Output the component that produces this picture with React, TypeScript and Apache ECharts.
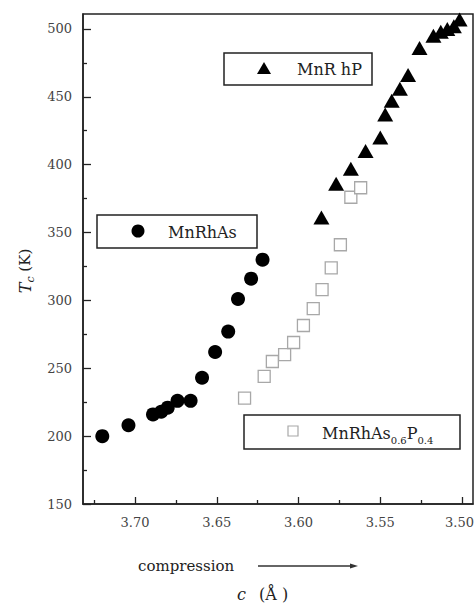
import React, { useEffect, useRef } from "react";
import * as echarts from "echarts";

// MnRhAs (filled circles)
const circleX = [3.720, 3.704, 3.689, 3.684, 3.680, 3.674, 3.666, 3.659, 3.651, 3.643, 3.637, 3.629, 3.622];
const circleY = [200, 208, 216, 218, 221, 226, 226, 243, 262, 277, 301, 316, 330];

// MnRhP (filled triangles)
const triX = [3.586, 3.577, 3.568, 3.559, 3.550, 3.547, 3.543, 3.538, 3.533, 3.526, 3.5175, 3.513, 3.509, 3.505, 3.5015];
const triY = [361, 386, 397, 410, 420, 437, 447, 456, 466, 486, 495, 498, 500, 502, 507];

// MnRhAs0.6P0.4 (open squares)
const sqX = [3.633, 3.621, 3.616, 3.6085, 3.603, 3.597, 3.591, 3.5856, 3.580, 3.5744, 3.568, 3.562];
const sqY = [228, 244, 255, 260, 269, 281.5, 294, 308, 324, 341, 376, 383];

const xMajorTicks = [3.5, 3.55, 3.6, 3.65, 3.7];
const xMinorTicks = [3.525, 3.575, 3.625, 3.675, 3.725];
const yMajorTicks = [150, 200, 250, 300, 350, 400, 450, 500];
const yMinorTicks = [175, 225, 275, 325, 375, 425, 475];

const X_MIN = 3.4933;
const X_MAX = 3.7318;
const Y_MIN = 150;
const Y_MAX = 511;

const FONT = "'DejaVu Serif', serif";
const AXIS_COLOR = "#222";

const pairs = (xs: number[], ys: number[]) => xs.map((x, i) => [x, ys[i]]);

export default function App() {
  const ref = useRef<HTMLDivElement>(null);
  useEffect(() => {
    if (!ref.current) return;
    const chart = echarts.init(ref.current, undefined, { renderer: "svg" });
    const baseX = {
      type: "value" as const,
      inverse: true,
      min: X_MIN,
      max: X_MAX,
      position: "bottom" as const,
      splitLine: { show: false },
    };
    const baseY = {
      type: "value" as const,
      min: Y_MIN,
      max: Y_MAX,
      position: "left" as const,
      splitLine: { show: false },
    };
    chart.setOption({
      animation: false,
      backgroundColor: "#fff",
      grid: {
        left: 83,
        right: 2,
        top: 14,
        bottom: 101,
        containLabel: false,
        outerBoundsMode: "none",
        show: true,
        borderColor: AXIS_COLOR,
        borderWidth: 1.5,
        backgroundColor: "transparent",
      },
      xAxis: [
        {
          ...baseX,
          axisLine: { show: true, lineStyle: { color: AXIS_COLOR, width: 1.5 } },
          axisTick: { show: true, inside: true, length: 7, customValues: xMajorTicks, lineStyle: { color: AXIS_COLOR, width: 1.3 } },
          axisLabel: {
            show: true,
            customValues: xMajorTicks,
            formatter: (v: number) => (v < 3.51 ? `{edge|${v.toFixed(2)}}` : v.toFixed(2)),
            margin: 12,
            fontFamily: FONT,
            fontSize: 13,
            color: "#444",
            rich: {
              edge: { fontFamily: FONT, fontSize: 13, color: "#444", padding: [0, 5, 0, 0] },
            },
          },
        },
        {
          ...baseX,
          axisLine: { show: false },
          axisTick: { show: true, inside: true, length: 4, customValues: xMinorTicks, lineStyle: { color: AXIS_COLOR, width: 1.3 } },
          axisLabel: { show: false },
        },
      ],
      yAxis: [
        {
          ...baseY,
          axisLine: { show: true, lineStyle: { color: AXIS_COLOR, width: 1.5 } },
          axisTick: { show: true, inside: true, length: 8, customValues: yMajorTicks, lineStyle: { color: AXIS_COLOR, width: 1.3 } },
          axisLabel: {
            show: true,
            customValues: yMajorTicks,
            margin: 11,
            fontFamily: FONT,
            fontSize: 13,
            color: "#444",
          },
        },
        {
          ...baseY,
          axisLine: { show: false },
          axisTick: { show: true, inside: true, length: 4, customValues: yMinorTicks, lineStyle: { color: AXIS_COLOR, width: 1.3 } },
          axisLabel: { show: false },
        },
      ],
      series: [
        {
          name: "MnRhAs",
          type: "scatter",
          xAxisIndex: 0,
          yAxisIndex: 0,
          symbol: "circle",
          symbolSize: 14,
          itemStyle: { color: "#000", opacity: 1 },
          data: pairs(circleX, circleY),
        },
        {
          name: "MnRhP",
          type: "scatter",
          xAxisIndex: 0,
          yAxisIndex: 0,
          symbol: "triangle",
          symbolSize: [16, 14],
          itemStyle: { color: "#000", opacity: 1 },
          data: pairs(triX, triY),
        },
        {
          name: "MnRhAs0.6P0.4",
          type: "scatter",
          xAxisIndex: 0,
          yAxisIndex: 0,
          symbol: "rect",
          symbolSize: 12,
          itemStyle: { color: "#fff", borderColor: "#a8a8a8", borderWidth: 1.3, opacity: 1 },
          data: pairs(sqX, sqY),
        },
      ],
      graphic: [
        // MnRhP legend box
        { type: "rect", shape: { x: 224, y: 53, width: 148, height: 32 }, style: { fill: "#fff", stroke: AXIS_COLOR, lineWidth: 1.5 }, z: 100 },
        { type: "polygon", shape: { points: [[257, 74], [271, 74], [264, 62]] }, style: { fill: "#000" }, z: 101 },
        { type: "text", x: 297, y: 69, style: { text: "MnR hP", font: `16px ${FONT}`, fill: "#222", verticalAlign: "middle" }, z: 101 },
        // MnRhAs legend box
        { type: "rect", shape: { x: 97, y: 215, width: 160, height: 33 }, style: { fill: "#fff", stroke: AXIS_COLOR, lineWidth: 1.5 }, z: 100 },
        { type: "circle", shape: { cx: 138, cy: 231, r: 6.5 }, style: { fill: "#000" }, z: 101 },
        { type: "text", x: 168, y: 232, style: { text: "MnRhAs", font: `16px ${FONT}`, fill: "#222", verticalAlign: "middle" }, z: 101 },
        // MnRhAs0.6P0.4 legend box
        { type: "rect", shape: { x: 244, y: 415, width: 216, height: 34 }, style: { fill: "#fff", stroke: AXIS_COLOR, lineWidth: 1.5 }, z: 100 },
        { type: "rect", shape: { x: 288, y: 426, width: 10, height: 10 }, style: { fill: "#fff", stroke: "#a8a8a8", lineWidth: 1.2 }, z: 101 },
        {
          type: "text",
          x: 322,
          y: 433,
          z: 101,
          style: {
            text: "{a|MnRhAs}{b|0.6}{a|P}{b|0.4}",
            verticalAlign: "middle",
            fill: "#222",
            rich: {
              a: { fontFamily: FONT, fontSize: 16, lineHeight: 24, fill: "#222" },
              b: { fontFamily: FONT, fontSize: 10, lineHeight: 10, verticalAlign: "bottom", fill: "#222" },
            },
          },
        },
        // y-axis name
        {
          type: "text",
          x: 25,
          y: 271,
          rotation: Math.PI / 2,
          style: {
            text: "{t|T}{s|c}{n| (K)}",
            align: "center",
            verticalAlign: "middle",
            rich: {
              t: { fontFamily: FONT, fontStyle: "italic", fontSize: 16, lineHeight: 22, fill: "#222" },
              s: { fontFamily: FONT, fontStyle: "italic", fontSize: 11, lineHeight: 11, verticalAlign: "bottom", fill: "#222" },
              n: { fontFamily: FONT, fontSize: 15, lineHeight: 22, fill: "#222" },
            },
          },
        },
        // compression label and arrow
        { type: "text", x: 138, y: 566, style: { text: "compression", font: `15px ${FONT}`, fill: "#222", verticalAlign: "middle" } },
        { type: "line", shape: { x1: 258, y1: 566, x2: 352, y2: 566 }, style: { stroke: "#333", lineWidth: 1.5 } },
        { type: "polygon", shape: { points: [[350, 563.5], [358, 566], [350, 568.5]] }, style: { fill: "#333" } },
        // c (Å)
        { type: "text", x: 237, y: 594, style: { text: "c", font: `italic 16px ${FONT}`, fill: "#222", verticalAlign: "middle" } },
        { type: "text", x: 259, y: 594, style: { text: "(Å )", font: `16px ${FONT}`, fill: "#222", verticalAlign: "middle" } },
      ],
    });
    return () => chart.dispose();
  }, []);
  return (
    <div
      ref={ref}
      style={{ position: "fixed", left: 0, top: 0, width: 475, height: 605, background: "#fff" }}
    />
  );
}
